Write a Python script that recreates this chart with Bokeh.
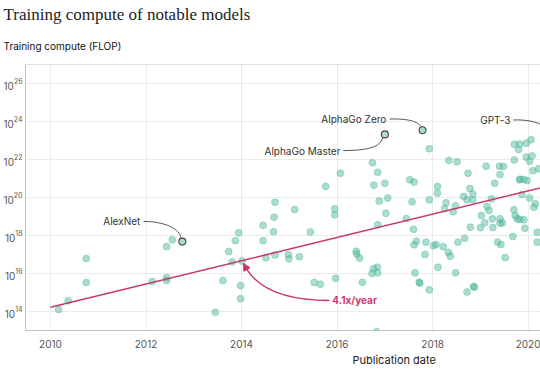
from bokeh.plotting import figure
from bokeh.models import (FixedTicker, Title, Span, Arrow, NormalHead,
                          ColumnDataSource, Range1d)
from bokeh.core.properties import value
from bokeh.embed import file_html
from bokeh.resources import INLINE
import math

# ---------------- data (publication year, log10 of training FLOP) ----------------
pub_year = [2010.17, 2010.37, 2010.75, 2010.75, 2012.13, 2012.43, 2012.43, 2012.43, 2012.55,
            2013.45, 2013.61, 2013.73, 2013.80, 2013.87, 2013.94, 2013.98, 2013.98, 2014.01,
            2014.45, 2014.45, 2014.51, 2014.70, 2014.68, 2014.67, 2014.70, 2014.98, 2014.99,
            2015.11, 2015.21, 2015.44, 2015.52, 2015.65, 2015.76, 2015.95, 2015.95, 2015.97,
            2016.07, 2016.40, 2016.41, 2016.47, 2016.53, 2016.74, 2016.77, 2016.85, 2016.88,
            2016.85, 2017.00, 2017.02, 2017.06, 2016.73, 2016.84, 2016.85, 2016.76, 2016.83,
            2017.45, 2017.52, 2017.61, 2017.57, 2017.60, 2017.66, 2017.61, 2017.63, 2017.72,
            2017.73, 2017.93, 2017.93, 2017.84, 2017.86, 2017.93, 2018.10, 2018.10, 2018.02,
            2018.07, 2018.11, 2018.22, 2018.25, 2018.28, 2018.34, 2018.33, 2018.37, 2018.43,
            2018.48, 2018.51, 2018.48, 2018.53, 2018.65, 2018.67, 2018.72, 2018.74, 2018.78,
            2018.79, 2018.84, 2018.84, 2018.72, 2018.86, 2018.87, 2019.00, 2019.02, 2019.09,
            2019.12, 2019.14, 2019.18, 2019.23, 2019.25, 2019.26, 2019.30, 2019.36, 2019.43,
            2019.40, 2019.48, 2019.41, 2019.41, 2019.46, 2019.41, 2019.52, 2019.68, 2019.70,
            2019.73, 2019.77, 2019.82, 2019.91, 2019.71, 2019.71, 2019.82, 2019.96, 2020.06,
            2019.80, 2019.82, 2019.83, 2019.91, 2019.98, 2019.87, 2019.93, 2019.96, 2020.03,
            2020.03, 2020.08, 2020.10, 2020.12, 2020.15, 2020.19, 2020.19, 2020.22]
log_flop = [14.11, 14.56, 16.79, 15.53, 15.58, 15.79, 15.63, 17.42, 17.77,
            13.96, 15.63, 17.16, 16.61, 17.73, 18.14, 15.37, 14.67, 16.66,
            18.54, 17.73, 16.83, 19.75, 18.96, 18.20, 16.97, 17.00, 16.77,
            19.37, 16.88, 18.19, 15.53, 15.44, 20.58, 19.41, 19.09, 15.75,
            21.28, 17.17, 17.02, 16.81, 15.54, 21.83, 20.65, 21.33, 19.81,
            18.56, 20.75, 19.17, 19.98, 16.00, 16.33, 16.04, 16.25, 12.93,
            18.89, 20.93, 20.81, 19.77, 18.33, 17.70, 17.51, 16.04, 15.54,
            15.50, 22.56, 19.88, 17.00, 17.65, 15.14, 20.58, 20.23, 17.46,
            17.53, 16.33, 17.41, 19.41, 19.72, 21.95, 17.11, 16.91, 19.25,
            19.56, 21.88, 16.04, 17.65, 20.05, 17.86, 19.88, 21.28, 20.47,
            18.44, 20.19, 19.88, 15.02, 15.32, 15.28, 18.41, 19.05, 18.67,
            21.65, 19.53, 19.32, 19.93, 18.88, 18.42, 20.75, 17.65, 17.53,
            21.65, 21.63, 21.21, 18.88, 18.67, 18.65, 16.84, 17.95, 19.35,
            19.05, 18.88, 18.84, 18.83, 21.98, 22.79, 22.81, 22.86, 23.04,
            22.53, 20.93, 20.96, 20.95, 20.89, 20.16, 18.38, 22.13, 21.91,
            19.98, 22.19, 21.41, 19.49, 19.67, 18.17, 17.65, 21.51]

# notable (annotated) models
notable_names = ["AlexNet", "AlphaGo Master", "AlphaGo Zero", "GPT-3"]
notable_year = [2012.76, 2017.00, 2017.79, 2020.42]
notable_log = [17.68, 23.32, 23.54, 23.50]
# label anchor (right end of label text)
label_year = [2011.88, 2016.07, 2017.03, 2019.63]
label_log = [18.74, 22.47, 24.14, 24.09]
# connector curves: start, control 0, control 1, end
conn_x0 = [2011.95, 2016.13, 2017.10, 2019.69]
conn_y0 = [18.74, 22.47, 24.13, 24.08]
conn_cx0 = [2012.41, 2016.66, 2017.49, 2020.01]
conn_cy0 = [18.74, 22.47, 24.16, 24.11]
conn_cx1 = [2012.72, 2016.91, 2017.70, 2020.26]
conn_cy1 = [18.32, 22.68, 24.00, 23.95]
conn_x1 = [2012.73, 2016.95, 2017.76, 2020.38]
conn_y1 = [17.87, 23.13, 23.71, 23.63]

# trend
trend_start_year = 2010.0
trend_end_year = 2020.6
trend_start_log = 14.22
trend_growth_per_year = 4.1
trend_label = "4.1x/year"
trend_label_year = 2015.90
trend_label_log = 14.58
trend_arrow_x = [2015.84, 2014.71, 2014.29, 2014.10, 2014.04]
trend_arrow_y = [14.58, 14.58, 15.47, 16.26, 16.53]

x_ticks = [2010, 2012, 2014, 2016, 2018, 2020]
y_tick_exps = [14, 16, 18, 20, 22, 24, 26]


def P(l):
    return [10 ** v for v in l]


TEAL = "#4db69a"
PINK = "#cc3670"
FONT = "Inter"

p = figure(width=540, height=372, x_range=Range1d(2009.477, 2020.258),
           y_range=Range1d(1e13, 1e27), y_axis_type="log",
           output_backend="svg", toolbar_location=None,
           min_border_left=25, min_border_right=0, min_border_top=64, min_border_bottom=42)
p.outline_line_color = None
p.background_fill_color = "white"
p.border_fill_color = "white"

# titles
p.title.text = ""
sub = Title(text="Training compute (FLOP)", text_font=FONT, text_font_size="10px",
            text_color="#111111", text_font_style="normal", align="left", offset=-22, standoff=26)
p.add_layout(sub, "above")
main = Title(text="Training compute of notable models", text_font="Liberation Serif",
             text_font_size="17px", text_color="#222222", text_font_style="normal",
             align="left", offset=-22, standoff=1)
p.add_layout(main, "above")

# axes
p.xaxis.ticker = FixedTicker(ticks=x_ticks)
p.yaxis.ticker = FixedTicker(ticks=[10 ** e for e in y_tick_exps])
for ax in (p.xaxis, p.yaxis):
    ax.axis_line_color = "#c4c4c4"
    ax.major_tick_line_color = None
    ax.minor_tick_line_color = None
    ax.major_tick_out = 0
    ax.major_tick_in = 0
    ax.minor_tick_out = 0
    ax.minor_tick_in = 0
    ax.major_label_text_font = FONT
    ax.major_label_text_font_size = "10px"
    ax.major_label_text_color = "#555555"
p.yaxis.major_label_standoff = 3
p.xaxis.major_label_standoff = 9
p.grid.grid_line_color = "#ebebeb"
p.grid.minor_grid_line_color = None

p.add_layout(Span(location=1e27, dimension="width", line_color="#c4c4c4", line_width=1))

xlab = Title(text="Publication date", text_font=FONT, text_font_size="11px",
             text_color="#222222", text_font_style="normal", align="left", offset=327, standoff=0)
p.add_layout(xlab, "below")

# points
src = ColumnDataSource(dict(x=pub_year, y=P(log_flop)))
p.scatter("x", "y", source=src, size=7, fill_color=TEAL, fill_alpha=0.48,
          line_color=TEAL, line_alpha=0.45, line_width=0.8)

# trend line
tx = [trend_start_year, trend_end_year]
ty = [10 ** (trend_start_log + math.log10(trend_growth_per_year) * (x - trend_start_year)) for x in tx]
p.line(tx, ty, line_color=PINK, line_width=1.5)

# notable points
p.scatter(notable_year, P(notable_log), size=7, fill_color=TEAL, fill_alpha=0.48,
          line_color="#444444", line_width=1.1)

# connectors
p.bezier(x0=conn_x0, y0=P(conn_y0), x1=conn_x1, y1=P(conn_y1), cx0=conn_cx0, cy0=P(conn_cy0),
         cx1=conn_cx1, cy1=P(conn_cy1), line_color="#555555", line_width=1)
p.text(x=label_year, y=P(label_log), text=notable_names, text_align="right",
       text_baseline="middle", text_font=value(FONT), text_font_size="10px", text_color="#333333")

# trend annotation
p.bezier(x0=[trend_arrow_x[0]], y0=P([trend_arrow_y[0]]), cx0=[trend_arrow_x[1]], cy0=P([trend_arrow_y[1]]),
         cx1=[trend_arrow_x[2]], cy1=P([trend_arrow_y[2]]), x1=[trend_arrow_x[3]], y1=P([trend_arrow_y[3]]),
         line_color=PINK, line_width=1.5)
p.add_layout(Arrow(x_start=trend_arrow_x[3], y_start=10 ** trend_arrow_y[3],
                   x_end=trend_arrow_x[4], y_end=10 ** trend_arrow_y[4],
                   line_color=PINK, line_width=1.5,
                   end=NormalHead(size=7, fill_color=PINK, line_color=PINK)))
p.text(x=[trend_label_year], y=P([trend_label_log]), text=[trend_label], text_align="left",
       text_baseline="middle", text_font=value(FONT), text_font_size="10px",
       text_font_style="bold", text_color=PINK)

open("out.html", "w").write(file_html(p, INLINE))
